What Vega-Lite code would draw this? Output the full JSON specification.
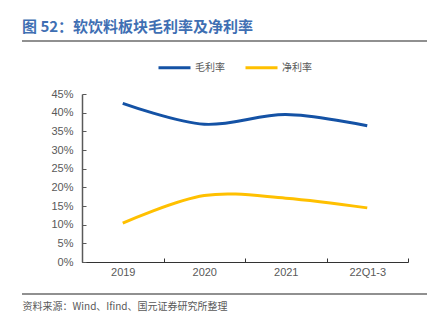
{
  "$schema": "https://vega.github.io/schema/vega-lite/v6.json",
  "autosize": {"type": "none"},
  "width": 326,
  "height": 168,
  "padding": {"left": 82, "top": 94, "right": 24, "bottom": 68},
  "background": "white",
  "config": {"view": {"stroke": null}},
  "title": {
    "text": "图 52：软饮料板块毛利率及净利率",
    "anchor": "start",
    "frame": "group",
    "dx": -60,
    "offset": 5,
    "font": "Noto Sans CJK SC",
    "fontSize": 15,
    "fontWeight": "bold",
    "color": "#3f6fb3"
  },
  "layer": [
    {
      "data": {"values": [
        {"period": "2019", "series": "毛利率", "value": 42.5},
        {"period": "2020", "series": "毛利率", "value": 36.9},
        {"period": "2021", "series": "毛利率", "value": 39.5},
        {"period": "22Q1-3", "series": "毛利率", "value": 36.5},
        {"period": "2019", "series": "净利率", "value": 10.4},
        {"period": "2020", "series": "净利率", "value": 17.8},
        {"period": "2021", "series": "净利率", "value": 17.1},
        {"period": "22Q1-3", "series": "净利率", "value": 14.5}
      ]},
      "mark": {"type": "line", "interpolate": "catmull-rom", "strokeWidth": 3},
      "encoding": {
        "x": {
          "field": "period", "type": "nominal", "sort": null,
          "scale": {"paddingInner": 0, "paddingOuter": 0},
          "axis": {
            "title": "资料来源：Wind、Ifind、国元证券研究所整理",
            "titleFont": "Noto Sans CJK SC", "titleFontSize": 10, "titleFontWeight": "normal",
            "titleColor": "#595959", "titleAnchor": "start", "titleAlign": "left",
            "titleX": -60, "titleY": 44, "titleBaseline": "middle",
            "labelAngle": 0, "labelFont": "Liberation Sans", "labelFontSize": 11,
            "labelColor": "#595959", "labelPadding": 8,
            "tickBand": "extent", "tickSize": -4, "tickColor": "#333333",
            "domainColor": "#333333", "domainWidth": 1.2, "grid": false
          }
        },
        "y": {
          "field": "value", "type": "quantitative",
          "scale": {"domain": [0, 45]},
          "axis": {
            "title": null, "values": [0, 5, 10, 15, 20, 25, 30, 35, 40, 45],
            "labelExpr": "datum.value + '%'",
            "labelFont": "Liberation Sans", "labelFontSize": 11, "labelColor": "#595959",
            "labelPadding": 13, "tickSize": -4, "tickColor": "#595959",
            "domainColor": "#595959", "domainWidth": 1.5, "grid": false
          }
        },
        "color": {
          "field": "series", "type": "nominal",
          "scale": {"domain": ["毛利率", "净利率"], "range": ["#1452a5", "#ffc000"]},
          "legend": {
            "title": null, "orient": "none", "legendX": 75, "legendY": -44,
            "direction": "horizontal", "symbolType": "stroke", "symbolSize": 1024,
            "symbolStrokeWidth": 3, "labelFont": "Noto Sans CJK SC", "labelFontSize": 10,
            "labelColor": "#595959", "labelOffset": 3, "columnPadding": 14
          }
        }
      }
    },
    {
      "data": {"values": [{"pos": "top"}]},
      "mark": {"type": "rule", "color": "#222222", "strokeWidth": 1.2},
      "encoding": {
        "x": {"value": -60},
        "x2": {"value": 345},
        "y": {"value": -53}
      }
    },
    {
      "data": {"values": [{"pos": "bottom"}]},
      "mark": {"type": "rule", "color": "#222222", "strokeWidth": 1.2},
      "encoding": {
        "x": {"value": -60},
        "x2": {"value": 345},
        "y": {"value": 200}
      }
    }
  ]
}
